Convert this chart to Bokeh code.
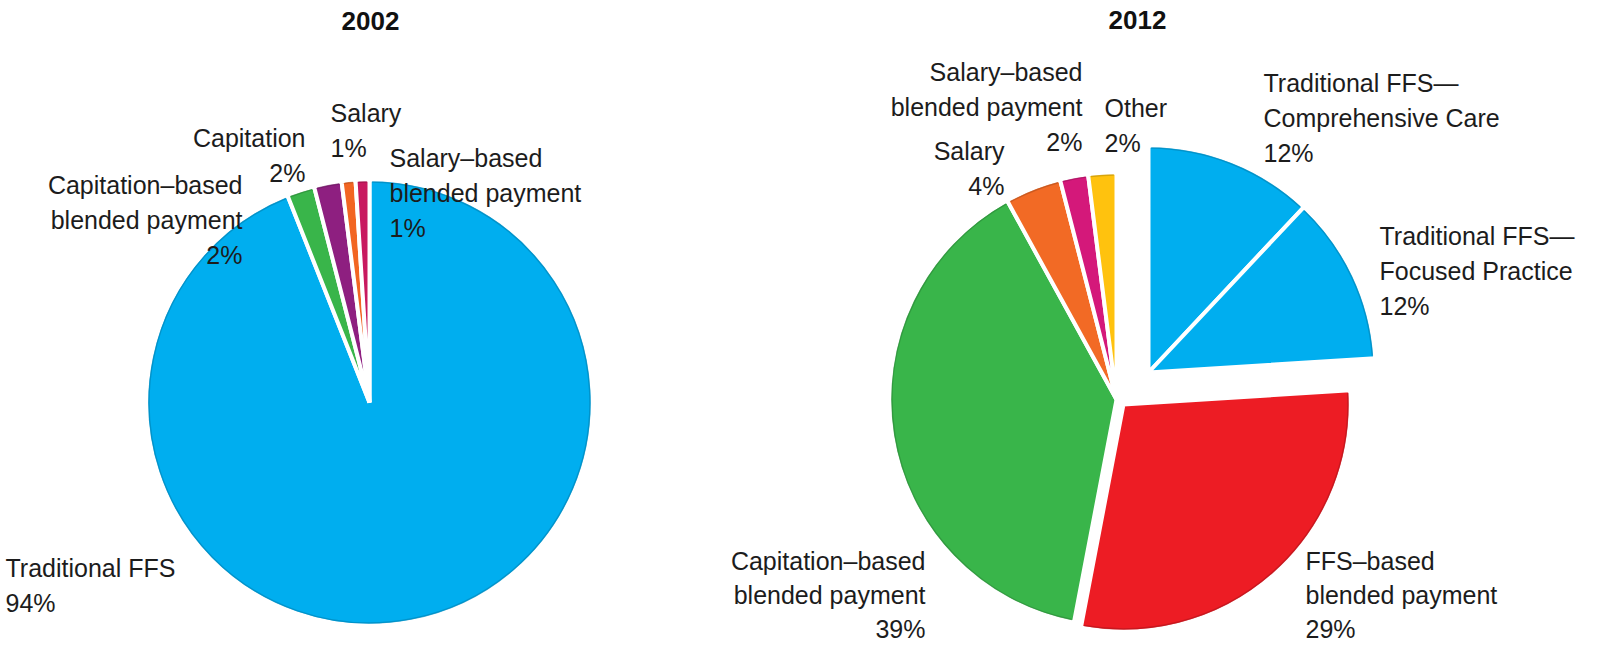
import math
from bokeh.plotting import figure
from bokeh.models import Range1d, ColumnDataSource
from bokeh.core.properties import value
from bokeh.embed import file_html
from bokeh.resources import INLINE

# ---------------- data ----------------
title_2002 = "2002"
cats_2002 = ["Traditional FFS",
             "Capitation–based\nblended payment",
             "Capitation",
             "Salary",
             "Salary–based\nblended payment"]
vals_2002 = [94, 2, 2, 1, 1]

title_2012 = "2012"
cats_2012 = ["Traditional FFS—\nComprehensive Care",
             "Traditional FFS—\nFocused Practice",
             "FFS–based\nblended payment",
             "Capitation–based\nblended payment",
             "Salary",
             "Salary–based\nblended payment",
             "Other"]
vals_2012 = [12, 12, 29, 39, 4, 2, 2]

# ---------------- styles / layout ----------------
colors_2002 = ["#00AEEF", "#39B54A", "#8E1F80", "#F26522", "#C8195F"]
colors_2012 = ["#00AEEF", "#00AEEF", "#ED1C24", "#39B54A", "#F26A25", "#D4187A", "#FFC20E"]

W, H = 1585, 644
def X(px):
    return px - 8
def Y(py):
    return 652 - py

FONT = value("Liberation Sans")
FSIZE = "25px"
TCOL = "#1c1c1c"


def darker(hexc, f=0.78):
    h = hexc.lstrip("#")
    r, g, b = (int(h[i:i + 2], 16) for i in (0, 2, 4))
    return "#%02x%02x%02x" % (int(r * f), int(g * f), int(b * f))


p = figure(width=W, height=H, x_range=Range1d(0, W), y_range=Range1d(0, H),
           output_backend="svg", toolbar_location=None, min_border=0)
p.axis.visible = False
p.grid.visible = False
p.outline_line_color = None
p.background_fill_color = "white"
p.border_fill_color = "white"


def draw_pie(cx, cy, r, vals, colors, offsets):
    total = float(sum(vals))
    cum = 0.0
    a0s, a1s, xs, ys = [], [], [], []
    for v, (dx, dy) in zip(vals, offsets):
        a0s.append(math.pi / 2 - 2 * math.pi * (cum + v) / total)
        a1s.append(math.pi / 2 - 2 * math.pi * cum / total)
        cum += v
        xs.append(X(cx) + dx)
        ys.append(Y(cy) + dy)
    # small angular trim so the dark rim stops before the white gaps
    trim = [min(0.012, (a1 - a0) * 0.2) for a0, a1 in zip(a0s, a1s)]
    src = ColumnDataSource(dict(x=xs, y=ys, a0=a0s, a1=a1s, c=colors,
                                d=[darker(c) for c in colors],
                                b0=[a + t for a, t in zip(a0s, trim)],
                                b1=[a - t for a, t in zip(a1s, trim)]))
    p.wedge(x="x", y="y", radius=r, start_angle="a0", end_angle="a1",
            direction="anticlock", fill_color="c", line_color="white",
            line_width=4, source=src)
    p.arc(x="x", y="y", radius=r - 2.5, start_angle="b0", end_angle="b1",
          direction="anticlock", line_color="d", line_width=1.5,
          line_alpha=0.7, source=src)


def draw_labels(cats, vals, anchors, gap):
    groups = {"left": dict(x=[], y=[], t=[]), "right": dict(x=[], y=[], t=[])}
    for cat, v, (ax, ay, al) in zip(cats, vals, anchors):
        lines = cat.split("\n") + [f"{v}%"]
        for i, ln in enumerate(lines):
            groups[al]["x"].append(X(ax))
            groups[al]["y"].append(Y(ay + i * gap))
            groups[al]["t"].append(ln)
    for al, d in groups.items():
        if d["t"]:
            p.text(x=d["x"], y=d["y"], text=d["t"], text_align=al,
                   text_baseline="middle", text_font=FONT,
                   text_font_size=FSIZE, text_color=TCOL)


# 2002 pie
draw_pie(377, 410, 223, vals_2002, colors_2002, [(0, 0)] * 5)
anchors_2002 = [(13, 575, "left"), (250, 192, "right"), (313, 145, "right"),
                (338, 120, "left"), (397, 165, "left")]
draw_labels(cats_2002, vals_2002, anchors_2002, 35)

# 2012 pie
offsets_2012 = [(32, 27), (32, 27), (7, -5), (0, 0), (0, 0), (0, 0), (0, 0)]
draw_pie(1124, 407, 227, vals_2012, colors_2012, offsets_2012)
anchors_top_2012 = [(1271, 90, "left"), (1387, 243, "left"),
                    (1012, 158, "right"), (1090, 79, "right"),
                    (1112, 115, "left")]
idx_top = [0, 1, 4, 5, 6]
draw_labels([cats_2012[i] for i in idx_top], [vals_2012[i] for i in idx_top],
            anchors_top_2012, 35)
idx_bot = [2, 3]
anchors_bot_2012 = [(1313, 568, "left"), (933, 568, "right")]
draw_labels([cats_2012[i] for i in idx_bot], [vals_2012[i] for i in idx_bot],
            anchors_bot_2012, 34)

# titles
p.text(x=[X(378), X(1145)], y=[Y(28), Y(27)], text=[title_2002, title_2012],
       text_align="center", text_baseline="middle", text_font=FONT,
       text_font_size="26px", text_font_style="bold", text_color="#111111")

open("out.html", "w").write(file_html(p, INLINE))
